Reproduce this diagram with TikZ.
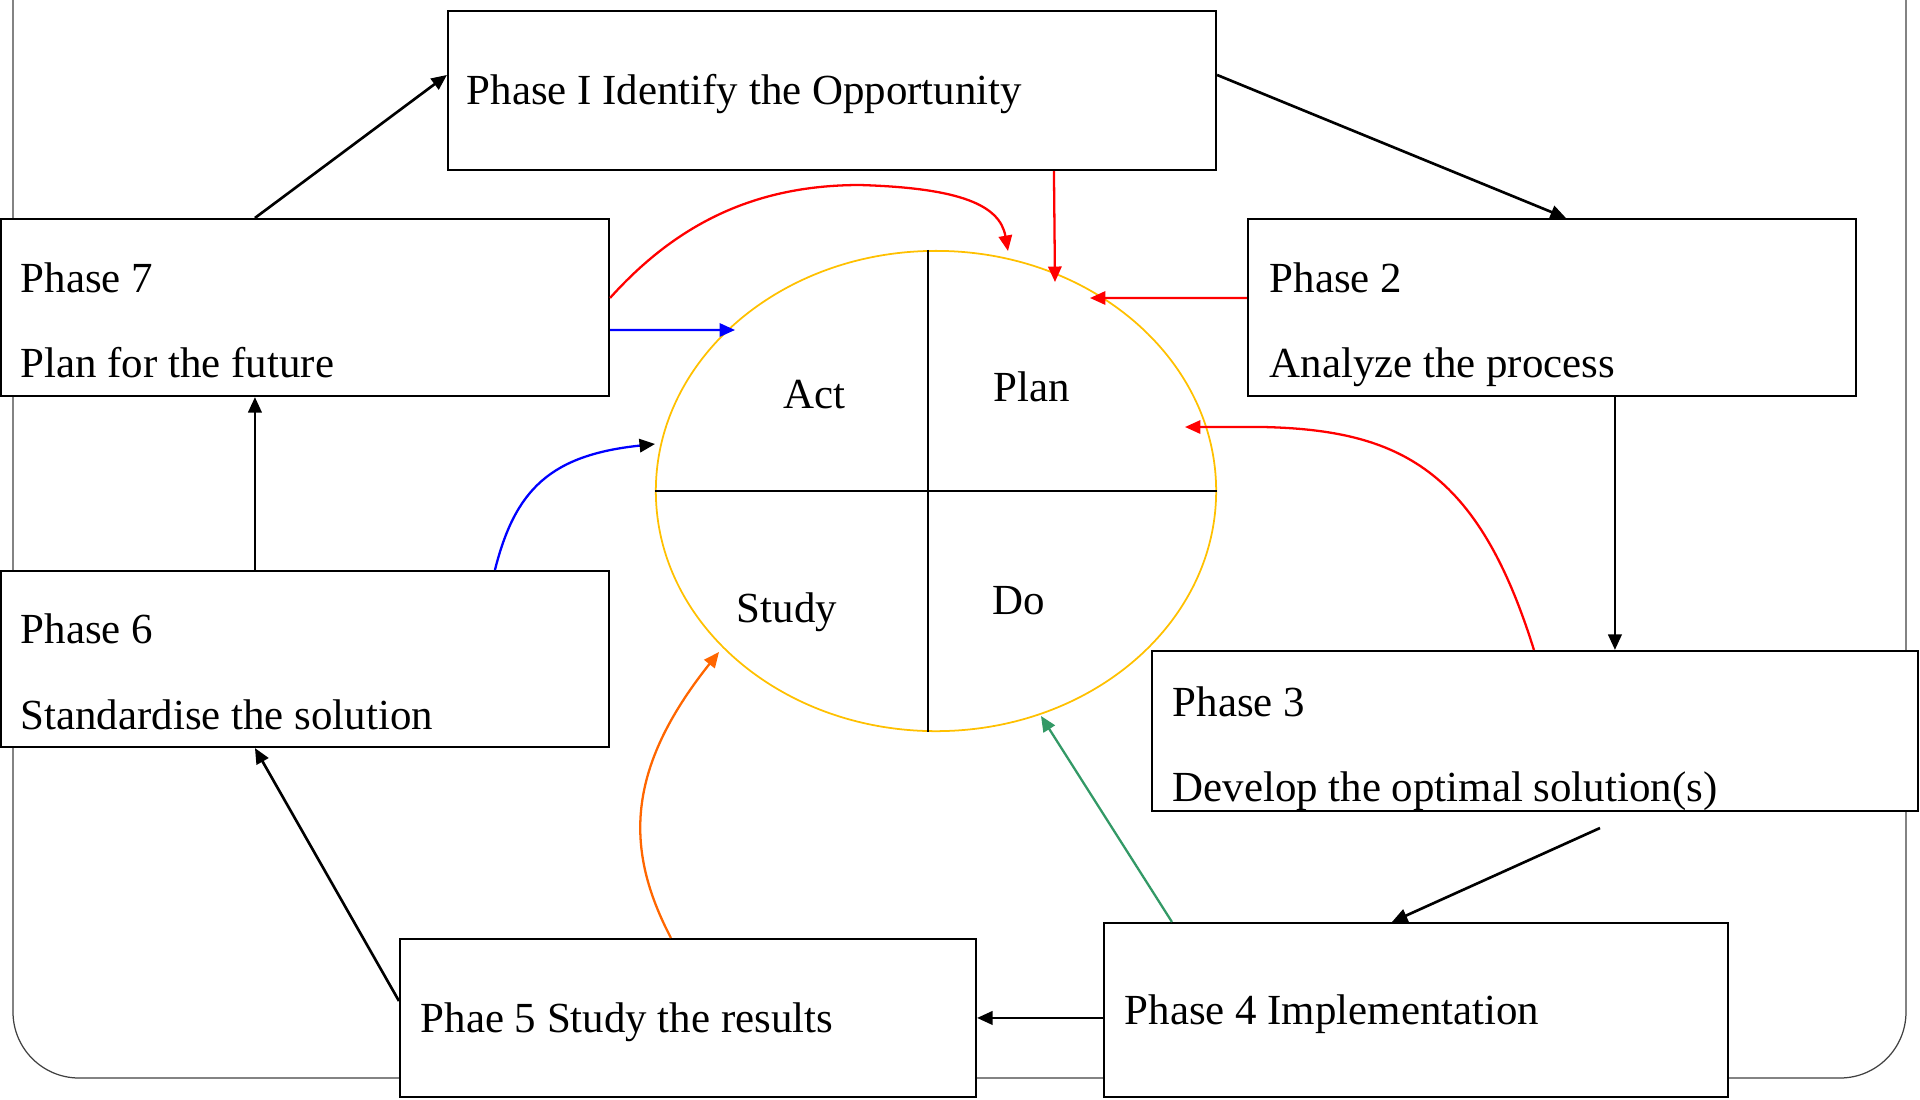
\documentclass[tikz,border=0pt]{standalone}
\usepackage{fontspec}
\setmainfont{Liberation Serif}
\usetikzlibrary{arrows.meta,shapes.geometric,fit,calc}
\definecolor{pdcagold}{HTML}{FFC000}
\definecolor{pdcared}{HTML}{FF0000}
\definecolor{pdcablue}{HTML}{0000FF}
\definecolor{pdcaorange}{HTML}{FF6600}
\definecolor{pdcagreen}{HTML}{339966}
\definecolor{framegray}{HTML}{404040}
\begin{document}
\begin{tikzpicture}[x=0.01cm,y=-0.01cm,
  box/.style={draw=black,fill=white,line width=0.6pt,inner sep=0pt},
  lbl/.style={anchor=base west,inner sep=0pt,font=\fontsize{12.2}{14}\selectfont},
  qlbl/.style={anchor=base,inner sep=0pt,font=\fontsize{12.2}{14}\selectfont},
  tip/.style={-{Triangle[length=4.4pt,width=3.8pt]}},
  conn/.style={tip,line width=0.75pt,draw=black},
  rconn/.style={tip,line width=0.65pt,draw=pdcared},
  bconn/.style={tip,line width=0.65pt,draw=pdcablue},
  oconn/.style={tip,line width=0.65pt,draw=pdcaorange},
  gconn/.style={tip,line width=0.65pt,draw=pdcagreen}]
\useasboundingbox (0,0) rectangle (1920,1099);
% outer frame
\draw[framegray,line width=0.35pt,rounded corners=0.66cm] (13,-5) -- (13,1078) -- (1906,1078) -- (1906,-5);
% boxes
\node[box,fit={(1,219) (609,396)}] (p7) {};
\node[box,fit={(448,11) (1216,170)}] (p1) {};
\node[box,fit={(1248,219) (1856,396)}] (p2) {};
\node[box,fit={(1,571) (609,747)}] (p6) {};
\node[box,fit={(1152,651) (1918,811)}] (p3) {};
\node[box,fit={(400,939) (976,1097)}] (p5) {};
\node[box,fit={(1104,923) (1728,1097)}] (p4) {};
% PDCA ellipse
\node[draw=pdcagold,ellipse,line width=0.5pt,minimum width=5.6cm,minimum height=4.8cm,inner sep=0pt] (pdca) at (936,491) {};
\draw[line width=0.6pt] (pdca.west) -- (pdca.east);
\draw[line width=0.6pt] ($(pdca.north)+(-8,0)$) -- ($(pdca.south)+(-8,0)$);
\node[qlbl] (qa) at (814,408) {Act};
\node[qlbl] (qp) at (1032,401) {Plan};
\node[qlbl] (qs) at (787,622) {Study};
\node[qlbl] (qd) at (1019,614) {Do};
% free ends of connectors
\coordinate (c4) at (1600,828);
\coordinate (eA) at (1055,282);
\coordinate (eB) at (1090,298);
\coordinate (eC) at (1185,427);
\coordinate (eD) at (1008,251);
\coordinate (eE) at (735,330);
\coordinate (eF) at (655,444);
\coordinate (eG) at (719,652);
\coordinate (eH) at (1041,716);
% black cycle connectors
\draw[conn] ($(p7.north west)+(255,0)$) -- ($(p1.north west)+(0,65)$);
\draw[conn] ($(p1.north east)+(0,65)$) -- ($(p2.north west)+(319,0)$);
\draw[conn] ($(p2.south west)+(368,0)$) -- ($(p3.north west)+(464,0)$);
\draw[conn] (c4) -- ($(p4.north west)+(289,0)$);
\draw[conn] ($(p4.north west)+(0,96)$) -- ($(p5.north east)+(0,80)$);
\draw[conn] ($(p5.north west)+(0,63)$) -- ($(p6.south west)+(255,0)$);
\draw[conn] ($(p6.north west)+(255,0)$) -- ($(p7.south west)+(255,0)$);
% coloured connectors to the PDCA circle
\draw[rconn] ($(p1.south west)+(607,0)$) -- (eA);
\draw[rconn] ($(p2.north west)+(0,80)$) -- (eB);
\draw[rconn] ($(p3.north west)+(383,0)$) .. controls (1478,470) and (1400,430) .. (1263,427) -- (eC);
\draw[rconn] ($(p7.north east)+(0,80)$) .. controls (680,220) and (760,185) .. (860,185) .. controls (960,188) and (1000,205) .. (eD);
\draw[bconn] ($(p7.north east)+(0,112)$) -- (eE);
\draw[line width=0.65pt,draw=pdcablue,-{Triangle[length=4.4pt,width=3.8pt,color=black]}] ($(p6.north west)+(495,0)$) .. controls (515,490) and (550,455) .. (eF);
\draw[oconn] ($(p5.north west)+(272,0)$) .. controls (625,850) and (625,770) .. (eG);
\draw[gconn] ($(p4.north west)+(69,0)$) -- (eH);
% box texts
\node[lbl] (t1) at (466,104) {Phase I Identify the Opportunity};
\node[lbl] (t7a) at (20,292) {Phase 7};
\node[lbl] (t7b) at (20,377) {Plan for the future};
\node[lbl] (t2a) at (1269,292) {Phase 2};
\node[lbl] (t2b) at (1269,377) {Analyze the process};
\node[lbl] (t6a) at (20,643) {Phase 6};
\node[lbl] (t6b) at (20,729) {Standardise the solution};
\node[lbl] (t3a) at (1172,716) {Phase 3};
\node[lbl] (t3b) at (1172,801) {Develop the optimal solution(s)};
\node[lbl] (t5) at (420,1032) {Phae 5 Study the results};
\node[lbl] (t4) at (1124,1024) {Phase 4 Implementation};
\end{tikzpicture}
\end{document}
